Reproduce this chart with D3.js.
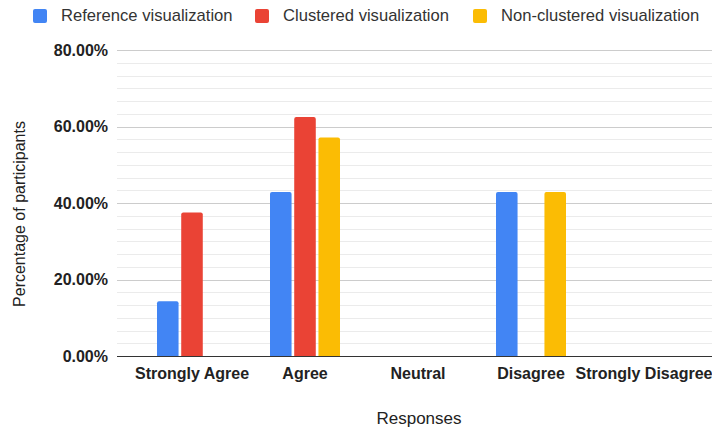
<!DOCTYPE html>
<html>
<head>
<meta charset="utf-8">
<script src="https://cdn.jsdelivr.net/npm/d3@7"></script>
<style>
  html, body { margin: 0; padding: 0; background: #fff; }
  svg { display: block; font-family: "Liberation Sans", Arial, sans-serif; }
</style>
</head>
<body>
<svg id="chart" width="712" height="429"></svg>
<script>
// Survey responses per visualization type (share of participants)
const categories = ["Strongly Agree", "Agree", "Neutral", "Disagree", "Strongly Disagree"];
const seriesNames = ["Reference visualization", "Clustered visualization", "Non-clustered visualization"];
const referenceValues = [0.1429, 0.4286, 0, 0.4286, 0];
const clusteredValues = [0.375, 0.625, 0, 0, 0];
const nonClusteredValues = [0, 0.5714, 0, 0.4286, 0];
const seriesColors = ["#4285F4", "#EA4335", "#FBBC04"];
const yTicks = [0, 0.2, 0.4, 0.6, 0.8];

const seriesValues = [referenceValues, clusteredValues, nonClusteredValues];

const svg = d3.select("#chart");

const gridLeft = 117, gridRight = 712;
const x = d3.scaleBand().domain(categories).range([135.5, 700.5]);
const xInner = d3.scaleBand().domain(seriesNames).range([-35, 35]).paddingInner(0.11);
const y = d3.scaleLinear().domain([0, 0.8]).range([356, 50]);

// Minor gridlines: five between each labelled tick
const minorTicks = d3.range(0, 0.8 + 1e-9, 0.2 / 6).filter(v => !yTicks.some(t => Math.abs(t - v) < 1e-6));
svg.append("g").selectAll("line").data(minorTicks).join("line")
  .attr("x1", gridLeft).attr("x2", gridRight)
  .attr("y1", d => Math.round(y(d)) + 0.5).attr("y2", d => Math.round(y(d)) + 0.5)
  .attr("stroke", "#ebebeb").attr("stroke-width", 1);

// Major gridlines
svg.append("g").selectAll("line").data(yTicks.filter(t => t > 0)).join("line")
  .attr("x1", gridLeft).attr("x2", gridRight)
  .attr("y1", d => Math.round(y(d)) + 0.5).attr("y2", d => Math.round(y(d)) + 0.5)
  .attr("stroke", "#cccccc").attr("stroke-width", 1);

// Y axis labels
const yAxis = d3.axisLeft(y).tickValues(yTicks).tickFormat(d3.format(".2%")).tickSize(0).tickPadding(0);
const yG = svg.append("g").attr("transform", "translate(108,0)").call(yAxis);
yG.select(".domain").remove();
yG.selectAll("text")
  .attr("font-family", "'Liberation Sans', Arial, sans-serif")
  .attr("font-size", 16).attr("font-weight", "bold").attr("fill", "#222");

// Bars
const data = [];
categories.forEach((c, i) => {
  seriesNames.forEach((s, j) => {
    data.push({ category: c, series: s, value: seriesValues[j][i], color: seriesColors[j] });
  });
});
svg.append("g").selectAll("path").data(data.filter(d => d.value > 0)).join("path")
  .attr("fill", d => d.color)
  .attr("d", d => {
    const x0 = x(d.category) + x.bandwidth() / 2 + xInner(d.series);
    const w = xInner.bandwidth();
    const y0 = y(d.value), y1 = y(0);
    const r = 2;
    return `M${x0},${y1}V${y0 + r}Q${x0},${y0} ${x0 + r},${y0}H${x0 + w - r}Q${x0 + w},${y0} ${x0 + w},${y0 + r}V${y1}Z`;
  });

// Baseline
svg.append("line")
  .attr("x1", gridLeft).attr("x2", gridRight)
  .attr("y1", Math.round(y(0)) + 0.5).attr("y2", Math.round(y(0)) + 0.5)
  .attr("stroke", "#333").attr("stroke-width", 1);

// X axis labels
const xAxis = d3.axisBottom(x).tickSize(0).tickPadding(0);
const xG = svg.append("g").attr("transform", "translate(0,368)").call(xAxis);
xG.select(".domain").remove();
xG.selectAll("text")
  .attr("dy", "0.71em")
  .attr("font-family", "'Liberation Sans', Arial, sans-serif")
  .attr("font-size", 16).attr("font-weight", "bold").attr("fill", "#222");

// Axis titles
svg.append("text")
  .attr("x", 419).attr("y", 424)
  .attr("text-anchor", "middle")
  .attr("font-size", 17).attr("fill", "#222")
  .text("Responses");
svg.append("text")
  .attr("transform", "translate(25,214) rotate(-90)")
  .attr("text-anchor", "middle")
  .attr("font-size", 16).attr("fill", "#222")
  .text("Percentage of participants");

// Legend
const legendX = [33, 255, 473];
const legend = svg.append("g").selectAll("g").data(seriesNames).join("g")
  .attr("transform", (d, i) => `translate(${legendX[i]},0)`);
legend.append("rect")
  .attr("x", 0).attr("y", 9).attr("width", 14).attr("height", 14).attr("rx", 2)
  .attr("fill", (d, i) => seriesColors[i]);
legend.append("text")
  .attr("x", 28).attr("y", 21)
  .attr("font-size", 16.6).attr("fill", "#333")
  .text(d => d);
</script>
</body>
</html>
